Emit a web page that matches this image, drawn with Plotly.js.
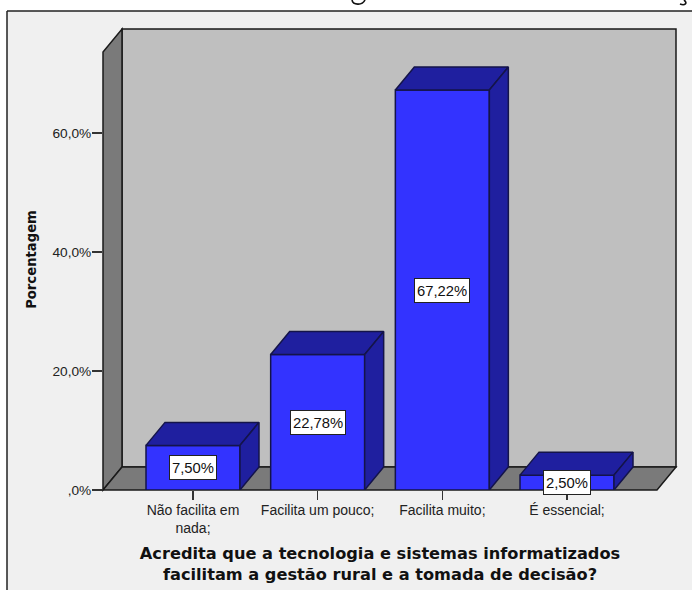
<!DOCTYPE html>
<html><head><meta charset="utf-8">
<script src="https://cdn.plot.ly/plotly-3.0.1.min.js"></script>
<style>html,body{margin:0;padding:0;background:#fff}</style></head>
<body><div id="chart" style="width:692px;height:590px"></div>
<script>
const categories = ["Não facilita em<br>nada;", "Facilita um pouco;", "Facilita muito;", "É essencial;"];
const values = [7.5, 22.78, 67.22, 2.5];
const valueLabels = ["7,50%", "22,78%", "67,22%", "2,50%"];
const yTicks = [0, 20, 40, 60];
const yTickLabels = [",0%", "20,0%", "40,0%", "60,0%"];
const xTitle = "Acredita que a tecnologia e sistemas informatizados<br>facilitam a gestão rural e a tomada de decisão?";
const yTitle = "Porcentagem";

const W = 692, H = 590, L = 103, R = 657, T = 29, B = 490;
const pxPerCat = 124.67, pxPerPct = 5.95, firstCenter = 193;
const depthX = 19 / pxPerCat, depthY = 23 / pxPerPct;
const xMin = (L - firstCenter) / pxPerCat, xMax = (R - firstCenter) / pxPerCat;
const yMax = (B - T) / pxPerPct;
const barW = 94 / pxPerCat, hw = barW / 2;
const frontT = yMax - depthY;
const px = x => (x - L) / (R - L), py = y => (B - y) / (B - T);
const dx = x => (x - xMin) / (xMax - xMin), dy = y => y / yMax;
const line = {color: "#1a1a1a", width: 1.5};
const C = {bg: "#F0F0F0", wall: "#BFBFBF", side: "#7A7A7A", bar: "#3333FF", dark: "#1F1F9F"};

const poly = (pts, fill) => ({type: "path", layer: "below", xref: "paper", yref: "paper",
  path: "M" + pts.map(p => dx(p[0]) + "," + dy(p[1])).join("L") + "Z", fillcolor: fill, line});
const curve = (a, b, c, d) => ({type: "path", layer: "below", xref: "paper", yref: "paper",
  path: `M${px(a[0])},${py(a[1])}C${px(b[0])},${py(b[1])} ${px(c[0])},${py(c[1])} ${px(d[0])},${py(d[1])}`,
  line: {color: "#111", width: 1.6}});
const shapes = [
  {type: "rect", layer: "below", xref: "paper", yref: "paper", x0: px(7), x1: px(692), y0: py(590), y1: py(11),
   fillcolor: C.bg, line: {width: 0}},
  {type: "line", layer: "below", xref: "paper", yref: "paper", x0: px(7), x1: px(7), y0: py(590), y1: py(11), line: {color: "#222", width: 1.5}},
  {type: "line", layer: "below", xref: "paper", yref: "paper", x0: px(7), x1: px(692), y0: py(11), y1: py(11), line: {color: "#222", width: 1.5}},
  curve([352, 0], [353, 5], [362, 6], [365, 0]),
  curve([680, 4], [685, 6], [688, 3], [684, 0]),
  poly([[xMin + depthX, depthY], [xMax + depthX, depthY], [xMax + depthX, yMax], [xMin + depthX, yMax]], C.wall),
  poly([[xMin, 0], [xMin + depthX, depthY], [xMin + depthX, yMax], [xMin, frontT]], C.side),
  poly([[xMin, 0], [xMax, 0], [xMax + depthX, depthY], [xMin + depthX, depthY]], C.side)
];

const traces = [{
  type: "bar", x: values.map((_, i) => i), y: values, width: barW,
  marker: {color: C.bar, line: {color: "#14144a", width: 1.5}}, hoverinfo: "skip", showlegend: false
}];
values.forEach((v, i) => {
  const l = i - hw, r = i + hw;
  traces.push({type: "scatter", mode: "lines", fill: "toself", fillcolor: C.dark, showlegend: false, hoverinfo: "skip",
    line: {color: "#14144a", width: 1.5},
    x: [l, r, r + depthX, l + depthX, l], y: [v, v, v + depthY, v + depthY, v]});
  traces.push({type: "scatter", mode: "lines", fill: "toself", fillcolor: C.dark, showlegend: false, hoverinfo: "skip",
    line: {color: "#14144a", width: 1.5},
    x: [r, r + depthX, r + depthX, r, r], y: [0, depthY, v + depthY, v, 0]});
});

const annotations = values.map((v, i) => ({
  x: i, y: v / 2, xref: "x", yref: "y", text: valueLabels[i], showarrow: false, height: 19,
  bgcolor: "#fff", bordercolor: "#222", borderwidth: 1, borderpad: 2,
  font: {family: "Liberation Sans", size: 14.8, color: "#111"}
}));

Plotly.newPlot("chart", traces, {
  width: W, height: H, paper_bgcolor: "#fff", plot_bgcolor: "rgba(0,0,0,0)",
  margin: {l: L, r: W - R, t: T, b: H - B, pad: 0}, showlegend: false,
  shapes, annotations,
  xaxis: {type: "linear", range: [xMin, xMax], showgrid: false, zeroline: false, showline: false,
    tickmode: "array", tickvals: categories.map((_, i) => i), ticktext: categories,
    ticks: "outside", ticklen: 9, tickwidth: 1.3, tickcolor: "#333", ticklabelstandoff: -2,
    tickfont: {family: "Liberation Sans", size: 14, color: "#222"},
    title: {text: xTitle, standoff: 12, font: {family: "DejaVu Sans", size: 16.2, color: "#111", weight: "bold"}}},
  yaxis: {type: "linear", range: [0, yMax], showgrid: false, zeroline: false, showline: false,
    tickmode: "array", tickvals: yTicks, ticktext: yTickLabels,
    ticks: "outside", ticklen: 10, tickwidth: 1.3, tickcolor: "#333", ticklabelstandoff: -2,
    tickfont: {family: "Liberation Sans", size: 13.7, color: "#222"},
    title: {text: yTitle, standoff: 12, font: {family: "DejaVu Sans", size: 13.2, color: "#111", weight: "bold"}}}
}, {displayModeBar: false, staticPlot: true});
</script></body></html>
